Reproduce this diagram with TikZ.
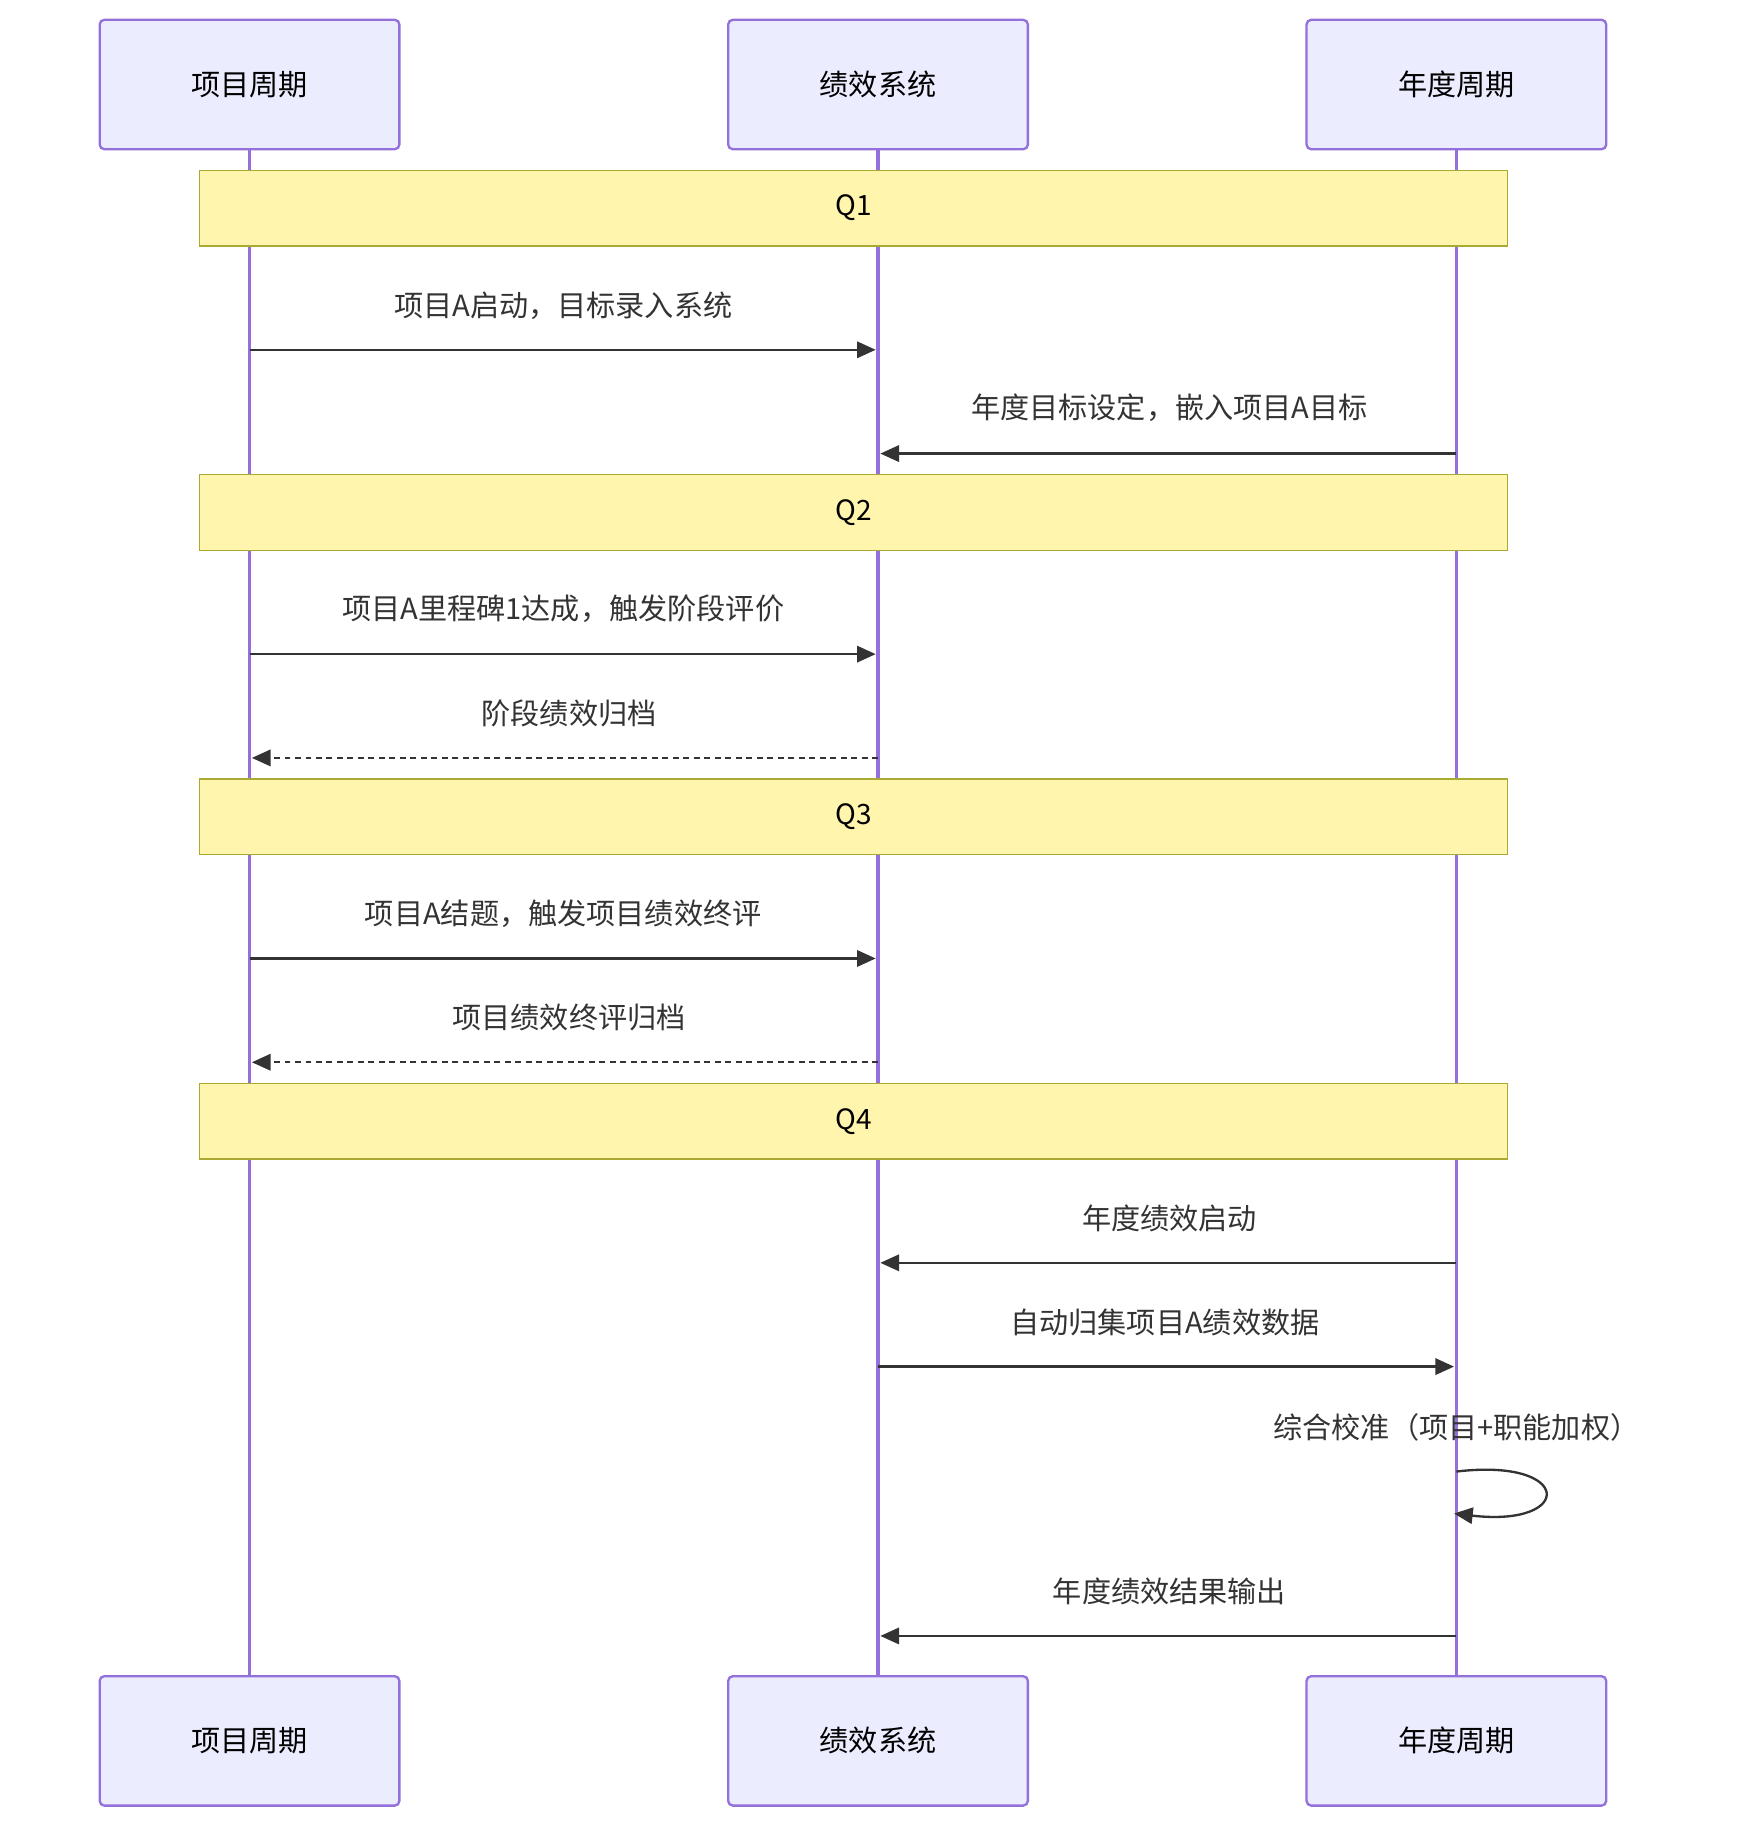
\documentclass[tikz,border=0pt]{standalone}
\usepackage{fontspec}
\setmainfont{Noto Sans CJK SC}
\usetikzlibrary{arrows.meta}
\definecolor{actorfill}{HTML}{ECECFF}
\definecolor{actorline}{HTML}{9370DB}
\definecolor{notefill}{HTML}{FFF5AD}
\definecolor{noteline}{HTML}{AAAA33}
\definecolor{msgline}{HTML}{333333}
\tikzset{
  actor/.style={draw=actorline, fill=actorfill, line width=1pt, rounded corners=2pt,
    minimum width=128.5pt, minimum height=55.5pt, font=\fontsize{12.5}{14}\selectfont},
  note/.style={draw=noteline, fill=notefill, line width=0.6pt,
    minimum width=561pt, minimum height=32.5pt, font=\fontsize{12}{14}\selectfont},
  life/.style={actorline, line width=1.5pt},
  msg/.style={msgline, line width=1pt, -{Triangle[length=8pt,width=7pt]}},
  reply/.style={msg, dash pattern=on 2.5pt off 2pt},
  lbl/.style={text=msgline, font=\fontsize{12.5}{14}\selectfont}
}
\begin{document}
\begin{tikzpicture}[x=0.5pt,y=0.5pt,yscale=-1]
	\useasboundingbox (0,0) rectangle (1508,1566);
	
	% lifelines
	\draw[life] (214,128) -- (214,1438);
	\draw[life] (753,128) -- (753,1438);
	\draw[life] (1249,128) -- (1249,1438);
	
	% actors
	\node[actor] (xmT) at (214,72.5) {项目周期};
	\node[actor] (jxT) at (753,72.5) {绩效系统};
	\node[actor] (ndT) at (1249,72.5) {年度周期};
	\node[actor] (xmB) at (214,1493) {项目周期};
	\node[actor] (jxB) at (753,1493) {绩效系统};
	\node[actor] (ndB) at (1249,1493) {年度周期};
	
	% quarter notes
	\node[note] (q1) at (732,178.5) {Q1};
	\node[note] (q2) at (732,439.5) {Q2};
	\node[note] (q3) at (732,700.5) {Q3};
	\node[note] (q4) at (732,961.5) {Q4};
	
	% message end points
	\coordinate (xm1) at (214,300); \coordinate (jx1) at (751,300);
	\coordinate (nd2) at (1249,389); \coordinate (jx2) at (755,389);
	\coordinate (xm3) at (214,561); \coordinate (jx3) at (751,561);
	\coordinate (jx4) at (753,650); \coordinate (xm4) at (216,650);
	\coordinate (xm5) at (214,822); \coordinate (jx5) at (751,822);
	\coordinate (jx6) at (753,911); \coordinate (xm6) at (216,911);
	\coordinate (nd7) at (1249,1083); \coordinate (jx7) at (755,1083);
	\coordinate (jx8) at (753,1172); \coordinate (nd8) at (1247,1172);
	\coordinate (nd9) at (1249,1262); \coordinate (nd10) at (1247,1298);
	\coordinate (nd11) at (1249,1403); \coordinate (jx11) at (755,1403);
	
	% messages
	\draw[msg] (xm1) -- (jx1);
	\node[lbl] at (483,262) {项目A启动，目标录入系统};
	\draw[msg] (nd2) -- (jx2);
	\node[lbl] at (1003,350) {年度目标设定，嵌入项目A目标};
	\draw[msg] (xm3) -- (jx3);
	\node[lbl] at (483,522) {项目A里程碑1达成，触发阶段评价};
	\draw[reply] (jx4) -- (xm4);
	\node[lbl] at (488,612) {阶段绩效归档};
	\draw[msg] (xm5) -- (jx5);
	\node[lbl] at (483,784) {项目A结题，触发项目绩效终评};
	\draw[reply] (jx6) -- (xm6);
	\node[lbl] at (488,873) {项目绩效终评归档};
	\draw[msg] (nd7) -- (jx7);
	\node[lbl] at (1003,1045) {年度绩效启动};
	\draw[msg] (jx8) -- (nd8);
	\node[lbl] at (999,1134) {自动归集项目A绩效数据};
	\draw[msg] (nd9) .. controls (1350,1250) and (1350,1310) .. (nd10);
	\node[lbl] at (1249,1224) {综合校准（项目+职能加权）};
	\draw[msg] (nd11) -- (jx11);
	\node[lbl] at (1003,1365) {年度绩效结果输出};
\end{tikzpicture}
\end{document}
